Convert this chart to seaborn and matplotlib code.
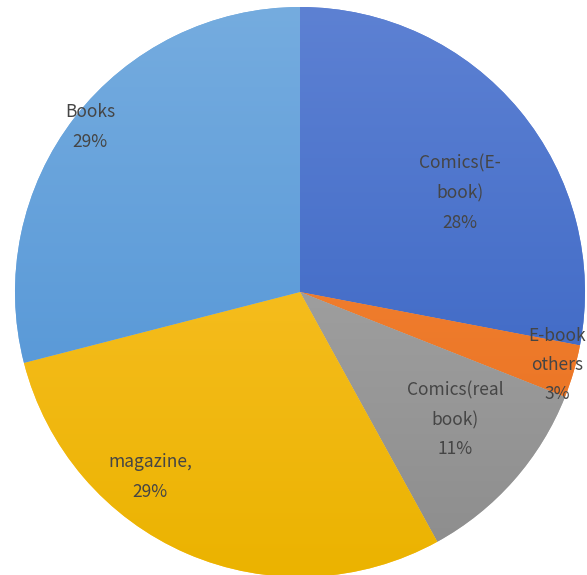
import numpy as np
import matplotlib
matplotlib.use("Agg")
import matplotlib.pyplot as plt
import seaborn as sns
from matplotlib.colors import LinearSegmentedColormap

# Share of reading by category (clockwise from 12 o'clock)
categories = ["Comics(E-\nbook)", "E-book\nothers", "Comics(real\nbook)", "magazine,", "Books"]
shares = [28, 3, 11, 29, 29]
# light (top) / dark (bottom) colour for each slice
top_colors = ["#5d81d3", "#f68c3e", "#b0b0b0", "#ffc53a", "#75acdf"]
bottom_colors = ["#325fc0", "#e86d1c", "#8c8c8c", "#ebb300", "#4a8fd4"]
# label centres, in units of the pie radius
label_xy = [(0.561, 0.347), (0.902, -0.256), (0.544, -0.449), (-0.526, -0.649), (-0.737, 0.579)]

sns.set_theme(style="white")
plt.rcParams['font.family'] = ['Noto Sans CJK JP', 'DejaVu Sans']

fig = plt.figure(figsize=(5.87, 5.75), dpi=100)
ax = fig.add_axes([0, 0, 1, 1])

R = 285.0
wedges, _ = ax.pie(shares, startangle=90, counterclock=False, radius=1.0,
                   colors=top_colors, wedgeprops=dict(linewidth=0))

# vertical gradient fill per wedge
grad = np.linspace(0, 1, 256).reshape(-1, 1)
for w, c0, c1 in zip(wedges, top_colors, bottom_colors):
    cmap = LinearSegmentedColormap.from_list("g", [c1, c0])
    im = ax.imshow(grad, cmap=cmap, extent=(-1, 1, -1, 1), origin="lower",
                   aspect="auto", zorder=w.get_zorder() + 0.1)
    im.set_clip_path(w)

text_color = "#454545"
for lab, pct, (x, y) in zip(categories, shares, label_xy):
    ax.text(x, y, f"{lab}\n{pct}%", ha="center", va="center", fontsize=12.5,
            color=text_color, linespacing=1.8, zorder=10)

ax.set_xlim(-300 / R, 287 / R)
ax.set_ylim(-283 / R, 292 / R)
ax.set_aspect("auto")
ax.axis("off")

fig.savefig("out.png", dpi=100)
